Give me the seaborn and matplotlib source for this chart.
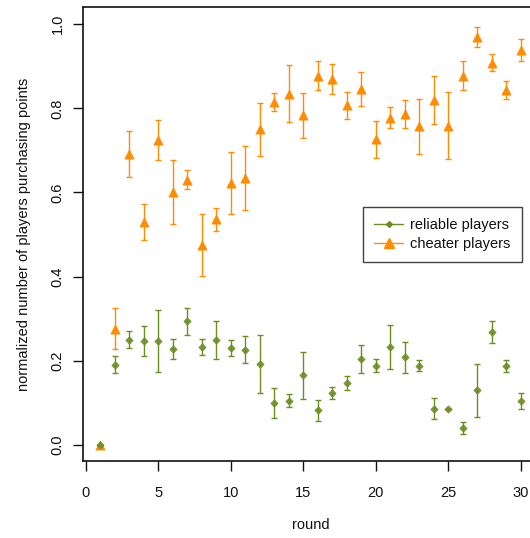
import numpy as np
import pandas as pd
import matplotlib
matplotlib.use("Agg")
import matplotlib.pyplot as plt
from matplotlib.lines import Line2D
import seaborn as sns

# Mean share of players buying points per round, with error half-widths
rounds = list(range(1, 31))
reliable_mean = [0.000, 0.190, 0.250, 0.246, 0.247, 0.228, 0.293, 0.232, 0.248, 0.230,
                 0.226, 0.192, 0.099, 0.105, 0.165, 0.082, 0.123, 0.147, 0.204, 0.188,
                 0.232, 0.208, 0.188, 0.086, 0.084, 0.040, 0.129, 0.268, 0.188, 0.105]
reliable_err = [0.000, 0.020, 0.021, 0.036, 0.073, 0.024, 0.031, 0.019, 0.045, 0.018,
                0.032, 0.068, 0.036, 0.015, 0.056, 0.025, 0.015, 0.017, 0.034, 0.015,
                0.052, 0.037, 0.013, 0.026, 0.000, 0.015, 0.062, 0.025, 0.014, 0.019]
cheater_mean = [0.000, 0.276, 0.692, 0.529, 0.725, 0.601, 0.630, 0.475, 0.536, 0.623,
                0.635, 0.750, 0.815, 0.835, 0.783, 0.878, 0.870, 0.807, 0.846, 0.727,
                0.778, 0.787, 0.757, 0.819, 0.759, 0.878, 0.970, 0.909, 0.844, 0.938]
cheater_err = [0.000, 0.048, 0.055, 0.043, 0.048, 0.075, 0.023, 0.073, 0.028, 0.074,
               0.076, 0.063, 0.021, 0.067, 0.053, 0.035, 0.035, 0.032, 0.040, 0.044,
               0.025, 0.034, 0.065, 0.057, 0.080, 0.035, 0.023, 0.021, 0.022, 0.026]

series_names = ["reliable players", "cheater players"]
green = "#6b8e23"
orange = "#ff8c00"
ink = "#111111"

df = pd.concat([
    pd.DataFrame({"round": rounds, "value": cheater_mean, "err": cheater_err,
                  "group": series_names[1]}),
    pd.DataFrame({"round": rounds, "value": reliable_mean, "err": reliable_err,
                  "group": series_names[0]}),
], ignore_index=True)

sns.set_theme(style="ticks")
plt.rcParams["font.family"] = ["Liberation Sans", "DejaVu Sans"]

fig = plt.figure(figsize=(5.30, 5.38), dpi=100)
ax = fig.add_axes([0.1575, 0.1422, 0.857, 0.844])

palette = {series_names[0]: green, series_names[1]: orange}

for name in [series_names[1], series_names[0]]:
    sub = df[df["group"] == name]
    ax.errorbar(sub["round"], sub["value"], yerr=sub["err"], fmt="none",
                ecolor=palette[name], elinewidth=1.0, capsize=2.2, capthick=1.0,
                zorder=2)

sns.scatterplot(data=df[df["group"] == series_names[1]], x="round", y="value",
                color=orange, marker="^", s=44, edgecolor=orange, linewidth=0.5,
                ax=ax, zorder=3, legend=False)
sns.scatterplot(data=df[df["group"] == series_names[0]], x="round", y="value",
                color=green, marker="D", s=14, edgecolor=green, linewidth=0.5,
                ax=ax, zorder=4, legend=False, alpha=0.9)

ax.set_xlim(-0.16, 31.16)
ax.set_ylim(-0.04, 1.04)
ax.set_xticks([0, 5, 10, 15, 20, 25, 30])
ax.set_yticks([0.0, 0.2, 0.4, 0.6, 0.8, 1.0])
ax.set_yticklabels(["0.0", "0.2", "0.4", "0.6", "0.8", "1.0"], rotation=90, va="center")
ax.tick_params(axis="both", direction="out", length=7.5, width=1.0, colors=ink,
               labelsize=10.5, labelcolor=ink)
ax.tick_params(axis="x", pad=10)
ax.tick_params(axis="y", pad=6)
for side in ["left", "bottom", "top", "right"]:
    ax.spines[side].set_visible(True)
    ax.spines[side].set_color(ink)
    ax.spines[side].set_linewidth(1.2)

ax.set_xlabel("round", fontsize=10.5, color=ink, labelpad=13)
ax.set_ylabel("normalized number of players purchasing points", fontsize=10.5,
              color=ink, labelpad=14)

handles = [
    Line2D([0], [0], color=green, marker="D", markersize=3, linewidth=1.0),
    Line2D([0], [0], color=orange, marker="^", markersize=7, linewidth=1.0),
]
leg = ax.legend(handles, series_names, loc="upper left",
                bbox_to_anchor=(363 / 530 / 0.857 - 0.1575 / 0.857,
                                (538 - 207) / 538 / 0.844 - 0.1422 / 0.844),
                frameon=True, fancybox=False, fontsize=10.5, handlelength=2.0,
                handletextpad=0.5, borderpad=0.75, labelspacing=0.35,
                borderaxespad=0)
leg.get_frame().set_edgecolor(ink)
leg.get_frame().set_linewidth(1.0)
for t in leg.get_texts():
    t.set_color(ink)

fig.savefig("out.png", dpi=100)
